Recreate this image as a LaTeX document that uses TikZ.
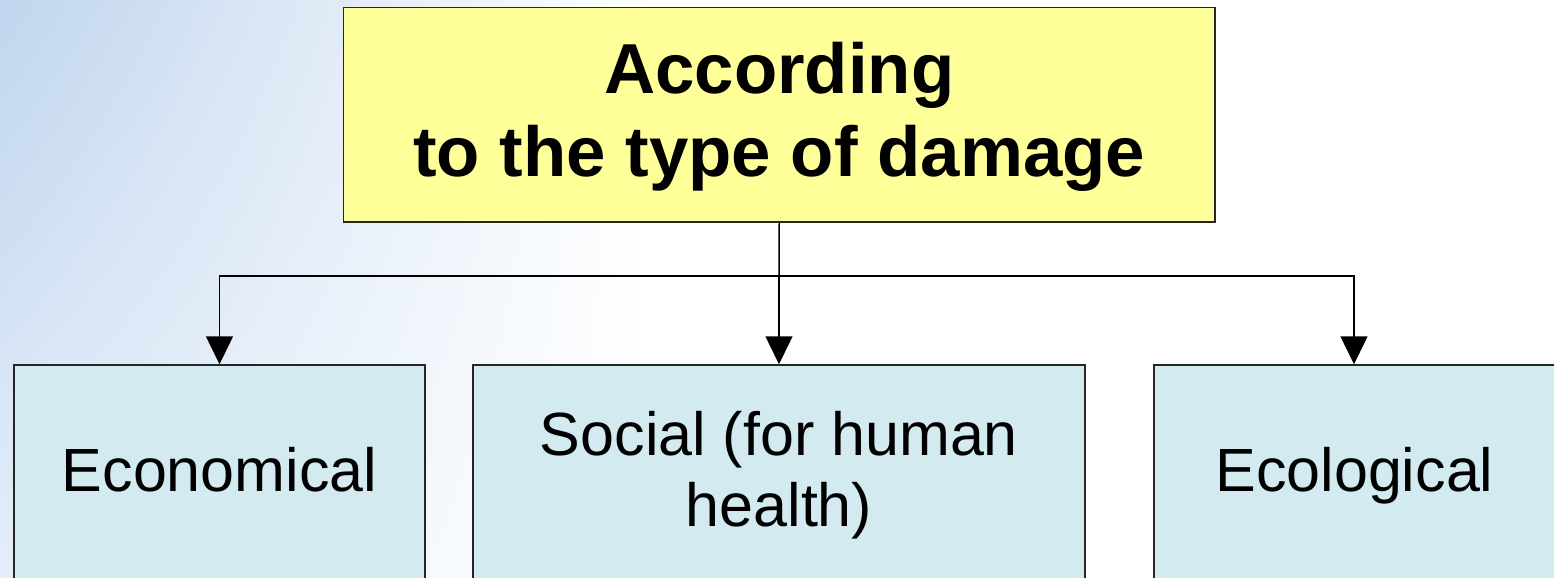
\documentclass[tikz,border=0pt]{standalone}
\usepackage{fontspec}
\setmainfont{Liberation Sans}
\usetikzlibrary{arrows.meta,shadings}
\definecolor{boxyellow}{RGB}{255,255,153}
\definecolor{boxblue}{RGB}{210,234,240}
\definecolor{bgblueA}{RGB}{192,213,238}
\definecolor{bgblueB}{RGB}{228,238,250}
\begin{document}
\begin{tikzpicture}[x=0.5pt,y=-0.5pt,
  box/.style={draw=black!85,line width=0.75pt,inner sep=0pt},
  topbox/.style={box,fill=boxyellow,minimum width=435.75pt,minimum height=107.25pt},
  toptext/.style={font=\fontsize{35.4}{41.35}\selectfont\bfseries,align=center,inner sep=0pt,anchor=base},
  lowbox/.style={box,fill=boxblue,minimum height=127.5pt},
  lowtext/.style={font=\fontsize{30.5}{35.85}\selectfont,align=center,inner sep=0pt,anchor=base},
  conn/.style={line width=0.75pt,black},
  arr/.style={conn,-{Triangle[width=13.5pt,length=14pt]}}]
\useasboundingbox (0,0) rectangle (1554,578);
\shade[upper left=bgblueA,upper right=white,lower left=bgblueB,lower right=white]
  (0,0) rectangle (650,578);
\node[topbox] (top) at (779.25,114.75) {};
\node[toptext] (topt) at (779.25,176) {According\\to the type of damage};
\node[lowbox,minimum width=205.5pt] (econ) at (219.5,492.5) {};
\node[lowbox,minimum width=306pt] (soc) at (779,492.5) {};
\node[lowbox,minimum width=202pt] (ecol) at (1356,492.5) {};
\node[lowtext] (econt) at (219.5,491) {Economical};
\node[lowtext] (soct) at (779,526.7) {Social (for human\\health)};
\node[lowtext] (ecolt) at (1354.5,491) {Ecological};
\coordinate (bus) at (779,276);
\draw[conn] (top.south) -- (bus);
\draw[arr] (bus) -- (soc.north);
\draw[arr] (bus) -| (econ.north);
\draw[arr] (bus) -| ([xshift=-1pt]ecol.north);
\end{tikzpicture}
\end{document}
